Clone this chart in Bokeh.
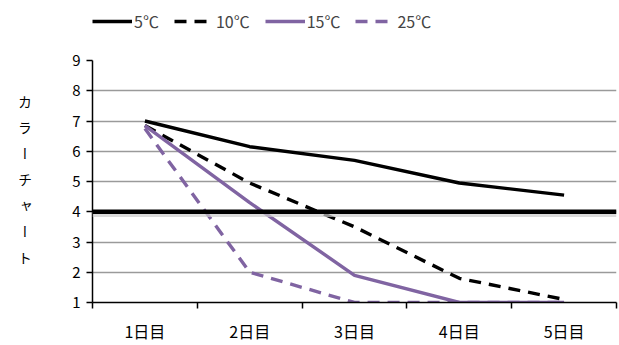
from bokeh.plotting import figure
from bokeh.models import FixedTicker, Span, Legend, LegendItem, Div
from bokeh.layouts import row, column
from bokeh.embed import file_html
from bokeh.resources import INLINE

days = ["1日目", "2日目", "3日目", "4日目", "5日目"]
t5 = [7.0, 6.15, 5.7, 4.95, 4.55]
t10 = [6.85, 4.95, 3.5, 1.8, 1.1]
t15 = [6.85, 4.3, 1.9, 1.0, 1.0]
t25 = [6.75, 2.0, 1.0, 1.0, 1.0]
series_names = ["5℃", "10℃", "15℃", "25℃"]
threshold = 4
y_ticks = [1, 2, 3, 4, 5, 6, 7, 8, 9]
ylabel = "カラーチャート"

xs = [i + 0.5 for i in range(len(days))]
FONT = "Noto Sans CJK JP"
PURPLE = "#8064A2"
styles = [dict(line_color="black"), dict(line_color="black", line_dash="12 8"),
          dict(line_color=PURPLE), dict(line_color=PURPLE, line_dash="12 8")]
series = [t5, t10, t15, t25]

p = figure(width=579, height=300, x_range=(0, len(days)), y_range=(1, 9),
           output_backend="svg", toolbar_location=None, margin=0,
           min_border_left=52, min_border_right=3, min_border_top=15, min_border_bottom=42)
p.outline_line_color = None
p.xgrid.grid_line_color = None
p.ygrid.grid_line_color = "#9a9a9a"
p.ygrid.grid_line_width = 1.5

p.xaxis.ticker = FixedTicker(ticks=xs, minor_ticks=list(range(len(days) + 1)))
p.xaxis.major_label_overrides = {x: d for x, d in zip(xs, days)}
p.xaxis.major_tick_line_color = None
p.xaxis.minor_tick_line_color = "black"
p.xaxis.minor_tick_out = 6
p.xaxis.minor_tick_in = 0
p.xaxis.minor_tick_line_width = 1.5
p.yaxis.ticker = FixedTicker(ticks=y_ticks)
p.yaxis.minor_tick_line_color = None
p.yaxis.major_tick_in = 0
p.yaxis.major_tick_out = 6
for ax in (p.xaxis, p.yaxis):
    ax.axis_line_color = "black"
    ax.axis_line_width = 1.5
    ax.major_label_text_font = FONT
    ax.major_label_text_color = "black"
p.xaxis.major_label_text_font_size = "16px"
p.yaxis.major_label_text_font_size = "15px"
p.xaxis.major_tick_line_width = 1.5
p.yaxis.major_tick_line_width = 1.5
p.xaxis.major_label_standoff = 10
p.yaxis.major_label_standoff = 6

# threshold line with shadow
p.add_layout(Span(location=threshold - 0.09, dimension="width", line_color="#cccccc", line_width=5, line_alpha=0.7))
p.add_layout(Span(location=threshold, dimension="width", line_color="black", line_width=4.5))

for ys, st in zip(series, styles):
    p.line(xs, ys, line_width=3.4, **st)

# legend strip (separate figure so the legend is not clipped); its lines lie outside its view
lf = figure(width=619, height=45, x_range=(100, 101), y_range=(100, 101),
            output_backend="svg", toolbar_location=None, margin=0,
            min_border_left=0, min_border_right=0, min_border_top=0, min_border_bottom=0)
lf.axis.visible = False
lf.grid.grid_line_color = None
lf.outline_line_color = None
lrs = [lf.line(xs, ys, line_width=3.4, **st) for ys, st in zip(series, styles)]
legend = Legend(items=[LegendItem(label=n, renderers=[r]) for n, r in zip(series_names, lrs)],
                orientation="horizontal", location=(92, 12),
                label_text_font=FONT, label_text_font_size="16px",
                glyph_width=40, label_standoff=2, spacing=15, padding=0, margin=0,
                border_line_color=None, background_fill_alpha=0)
lf.add_layout(legend, "center")

ydiv = Div(text=ylabel, width=40, height=300, margin=0,
           styles={"writing-mode": "vertical-rl", "text-orientation": "upright",
                   "font-family": FONT, "font-size": "14px", "letter-spacing": "12px",
                   "color": "black", "padding-top": "50px", "padding-right": "8px",
                   "line-height": "1", "box-sizing": "border-box", "overflow": "hidden"})

layout = column(lf, row(ydiv, p, spacing=0, margin=0), spacing=0, margin=0)
open("out.html", "w").write(file_html(layout, INLINE))
